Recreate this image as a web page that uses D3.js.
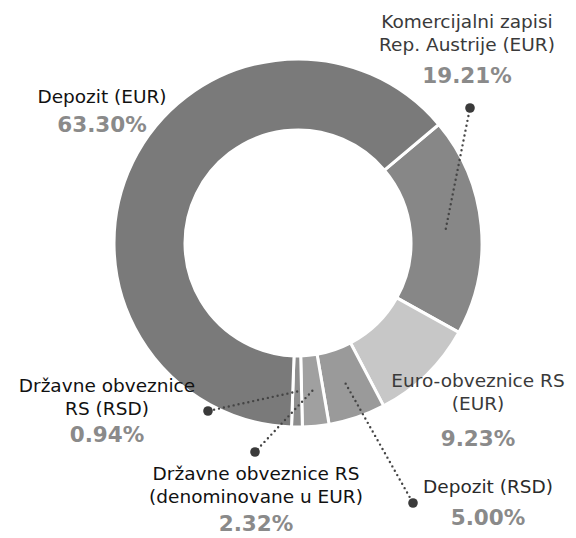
<!DOCTYPE html>
<html>
<head>
<meta charset="utf-8">
<script src="https://cdn.jsdelivr.net/npm/d3@7"></script>
<style>
  body { margin: 0; background: #fff; }
  svg { display: block; }
</style>
</head>
<body>
<script>
// data, clockwise starting at the top-right boundary
const categories = [
  "Komercijalni zapisi Rep. Austrije (EUR)",
  "Euro-obveznice RS (EUR)",
  "Depozit (RSD)",
  "Državne obveznice RS (denominovane u EUR)",
  "Državne obveznice RS (RSD)",
  "Depozit (EUR)"
];
const shares = [19.21, 9.23, 5.00, 2.32, 0.94, 63.30];
const labelLines = [
  ["Komercijalni zapisi", "Rep. Austrije (EUR)"],
  ["Euro-obveznice RS", "(EUR)"],
  ["Depozit (RSD)"],
  ["Državne obveznice RS", "(denominovane u EUR)"],
  ["Državne obveznice", "RS (RSD)"],
  ["Depozit (EUR)"]
];
const sliceColors = ["#878787", "#c7c7c7", "#9a9a9a", "#a0a0a0", "#8e8e8e", "#7a7a7a"];

const width = 576, height = 538;
const cx = 298, cy = 243, outerR = 184, innerR = 113;

// label placement: x centre, first baseline, percent baseline, optional dot
const labelLayout = [
  { x: 467, y: 28, py: 83, dot: [470, 108], color: "#3a3a3a" },
  { x: 478, y: 387, py: 446, dot: null, color: "#3a3a3a" },
  { x: 488, y: 493, py: 525, dot: [413, 503], color: "#2a2a2a" },
  { x: 256, y: 480, py: 531, dot: [255, 452], color: "#111" },
  { x: 107, y: 392, py: 442, dot: [208, 411], color: "#111" },
  { x: 102, y: 103, py: 132, dot: null, color: "#111" }
];

const data = categories.map((name, i) => ({ name, value: shares[i], i }));

const svg = d3.select("body").append("svg")
  .attr("width", width)
  .attr("height", height)
  .attr("viewBox", [0, 0, width, height]);

const color = d3.scaleOrdinal(categories, sliceColors);

const start = 49.9 * Math.PI / 180;
const pie = d3.pie()
  .sort(null)
  .value(d => d.value)
  .startAngle(start)
  .endAngle(start + 2 * Math.PI);

const arc = d3.arc().innerRadius(innerR).outerRadius(outerR);
const arcs = pie(data);

const g = svg.append("g").attr("transform", `translate(${cx},${cy})`);

g.selectAll("path")
  .data(arcs)
  .join("path")
  .attr("d", arc)
  .attr("fill", d => color(d.data.name))
  .attr("stroke", "#fff")
  .attr("stroke-width", 3)
  .attr("stroke-linejoin", "miter");

// leader lines from slice centroid to the dot
const leaders = arcs.filter(d => labelLayout[d.data.i].dot);

svg.append("g")
  .selectAll("line")
  .data(leaders)
  .join("line")
  .attr("x1", d => cx + arc.centroid(d)[0])
  .attr("y1", d => cy + arc.centroid(d)[1])
  .attr("x2", d => labelLayout[d.data.i].dot[0])
  .attr("y2", d => labelLayout[d.data.i].dot[1])
  .attr("stroke", "#444")
  .attr("stroke-width", 2.4)
  .attr("stroke-linecap", "round")
  .attr("stroke-dasharray", "0,5");

svg.append("g")
  .selectAll("circle")
  .data(leaders)
  .join("circle")
  .attr("cx", d => labelLayout[d.data.i].dot[0])
  .attr("cy", d => labelLayout[d.data.i].dot[1])
  .attr("r", 4.8)
  .attr("fill", "#3a3a3a");

// labels
const label = svg.append("g")
  .attr("text-anchor", "middle")
  .selectAll("g")
  .data(data)
  .join("g");

label.append("text")
  .attr("font-family", "'DejaVu Sans', sans-serif")
  .attr("font-size", 18.5)
  .attr("fill", d => labelLayout[d.i].color)
  .selectAll("tspan")
  .data(d => labelLines[d.i].map((t, k) => ({ t, k, L: labelLayout[d.i] })))
  .join("tspan")
  .attr("x", d => d.L.x)
  .attr("y", d => d.L.y + d.k * 23)
  .text(d => d.t);

label.append("text")
  .attr("font-family", "'DejaVu Sans', sans-serif")
  .attr("font-weight", "bold")
  .attr("font-size", 21.5)
  .attr("fill", "#8a8a8a")
  .attr("x", d => labelLayout[d.i].x)
  .attr("y", d => labelLayout[d.i].py)
  .text(d => d.value.toFixed(2) + "%");
</script>
</body>
</html>
